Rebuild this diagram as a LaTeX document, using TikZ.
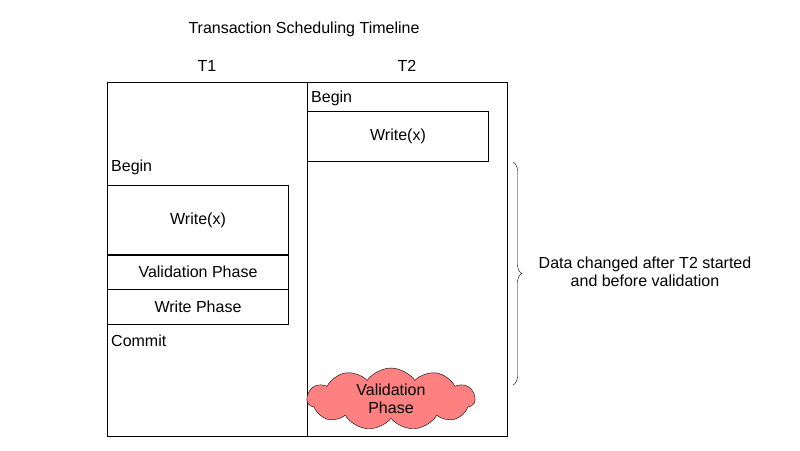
\documentclass[tikz,border=0pt]{standalone}
\usepackage{fontspec}
\setmainfont{Liberation Sans}
\usetikzlibrary{shapes.symbols,decorations.pathreplacing}
\tikzset{
  phase/.style={draw, inner sep=0pt, font=\fontsize{16}{18}\selectfont},
  lbl/.style={inner sep=0pt, font=\fontsize{16}{18}\selectfont},
}
\begin{document}
\begin{tikzpicture}[x=1pt,y=-1pt]
  \useasboundingbox (0,0) rectangle (800,450);
  %Titulo
  \node[lbl] (title) at (304,29) {Transaction Scheduling Timeline};
  \node[lbl] (t1) at (207,66) {T1};
  \node[lbl] (t2) at (407,66) {T2};
  %Colunas
  \draw (107,82) rectangle (307,436);
  \draw (307,82) rectangle (507,436);
  %T1
  \node[lbl, anchor=west] (b1) at (111,167) {Begin};
  \node[phase, minimum width=181, minimum height=70] (w1) at (198,220) {Write(x)};
  \node[phase, minimum width=181, minimum height=35] (v1) at (198,272) {Validation Phase};
  \node[phase, minimum width=181, minimum height=35] (wp1) at (198,307) {Write Phase};
  \node[lbl, anchor=west] (c1) at (111,341) {Commit};
  %T2
  \node[lbl, anchor=west] (b2) at (311,98) {Begin};
  \node[phase, minimum width=181, minimum height=50] (w2) at (398,136) {Write(x)};
  \node[cloud, draw, fill=red!50, cloud puffs=11, cloud puff arc=110, aspect=3.5,
        minimum width=168, minimum height=48, inner sep=0pt,
        align=center, font=\fontsize{16}{18}\selectfont] (v2) at (391,399) {Validation\\Phase};
  %Chave
  \coordinate (bt) at (513,162);
  \coordinate (bb) at (513,385);
  \draw[decorate, decoration={brace, amplitude=9pt}] (bt) -- (bb);
  \node[lbl, align=center] (note) at (645,272) {Data changed after T2 started\\and before validation};
\end{tikzpicture}
\end{document}
